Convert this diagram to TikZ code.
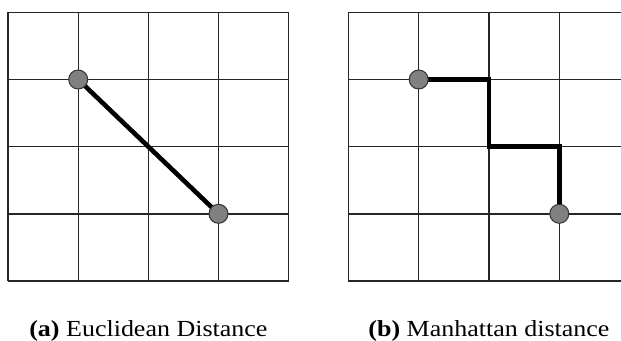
\documentclass[tikz,border=0pt]{standalone}
\usepackage{fontspec}
\setmainfont{Liberation Serif}[FakeStretch=1.13]
\begin{document}
\begin{tikzpicture}[x=1pt,y=-1pt,
  gridline/.style={line width=1.4pt, draw=black!85},
  pathline/.style={line width=4.6pt, black},
  dot/.style={circle, draw=black!80, line width=1pt, fill=black!50, minimum width=19pt, minimum height=18pt, inner sep=0pt},
  caption/.style={anchor=base, font=\fontsize{23}{26}\selectfont, inner sep=0pt}]
\useasboundingbox (0,0) rectangle (621,340);
% left grid
\foreach \x in {8,78.2,148.4,218.5,288.7} \draw[gridline] (\x,12.3) -- (\x,281);
\foreach \y in {12.3,79.5,146.7,213.8,281} \draw[gridline] (8,\y) -- (288.7,\y);
% right grid (cut at the right edge)
\begin{scope}
\clip (330,0) rectangle (621,340);
\foreach \x in {348.3,418.7,489,559.3,629.6} \draw[gridline] (\x,12.3) -- (\x,281);
\foreach \y in {12.3,79.5,146.7,213.8,281} \draw[gridline] (348.3,\y) -- (629.6,\y);
\end{scope}
% euclidean
\coordinate (e1) at (78.2,79.5);
\coordinate (e2) at (218.5,213.8);
\draw[pathline] (e1) -- (e2);
\node[dot] (ea) at (e1) {};
\node[dot] (eb) at (e2) {};
% manhattan
\coordinate (m1) at (418.7,79.5);
\coordinate (m2) at (559.3,213.8);
\draw[pathline, line join=miter] (m1) -- (489,79.5) -- (489,146.7) -- (559.3,146.7) -- (m2);
\node[dot] (ma) at (m1) {};
\node[dot] (mb) at (m2) {};
% captions
\node[caption] (capa) at (148.4,336) {\textbf{(a)} Euclidean Distance};
\node[caption] (capb) at (489,336) {\textbf{(b)} Manhattan distance};
\end{tikzpicture}
\end{document}
